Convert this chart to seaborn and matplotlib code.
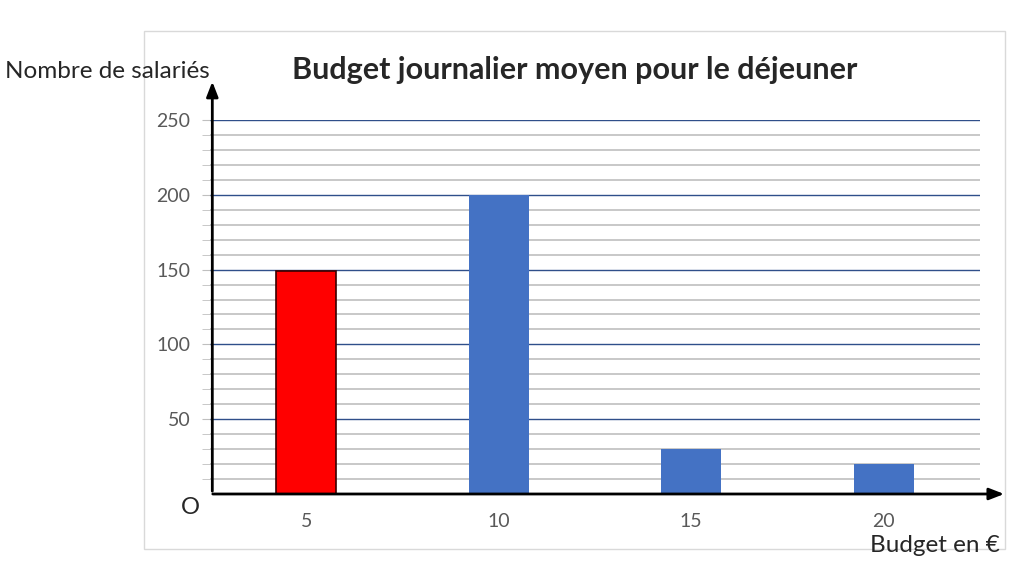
import numpy as np
import pandas as pd
import matplotlib
matplotlib.use("Agg")
import matplotlib.pyplot as plt
import seaborn as sns
from matplotlib.patches import Rectangle

# data
budgets = ["5", "10", "15", "20"]
salaries = [149, 200, 30, 20]
bar_colors = ["#FF0000", "#4472C4", "#4472C4", "#4472C4"]
y_major = [50, 100, 150, 200, 250]
y_minor = list(range(10, 250, 10))

sns.set_style("white")
plt.rcParams["font.family"] = ["Lato", "DejaVu Sans"]

df = pd.DataFrame({"budget": budgets, "salaries": salaries})

fig = plt.figure(figsize=(10.24, 5.85), dpi=100)

# light frame around the chart area
fig.patches.append(Rectangle((144 / 1024, 1 - 549 / 585), (1005 - 144) / 1024, (549 - 31) / 585,
                             transform=fig.transFigure, fill=False, edgecolor="#D9D9D9", lw=1))

ax = fig.add_axes([210 / 1024, 1 - 494 / 585, 770 / 1024, 374 / 585])

# grid lines
for v in y_minor:
    if v not in y_major:
        ax.axhline(v, color="#BFBFBF", lw=1.2, zorder=0)
for v in y_major:
    ax.axhline(v, color="#2F4F8A", lw=1.0, zorder=0)

sns.barplot(data=df, x="budget", y="salaries", hue="budget", palette=bar_colors,
            width=0.31, legend=False, ax=ax, zorder=2, saturation=1, linewidth=0)
ax.patches[0].set_edgecolor("#3A0000")
ax.patches[0].set_linewidth(1.2)

ax.set_ylim(0, 250)
ax.set_xlim(-0.5, 3.5)
ax.set_yticks(y_major)
ax.set_yticklabels([str(v) for v in y_major], color="#595959", fontsize=14)
ax.set_yticks(y_minor, minor=True)
ax.tick_params(axis="y", which="both", length=6, color="#BFBFBF", left=True, pad=8)
ax.tick_params(axis="x", length=0, labelsize=14, labelcolor="#595959", pad=14)
ax.set_xlabel("")
ax.set_ylabel("")
for s in ax.spines.values():
    s.set_visible(False)

# axis arrows
ax.annotate("", xy=(0.003, 1.11), xytext=(0.003, 0), xycoords="axes fraction",
            arrowprops=dict(arrowstyle="-|>,head_width=0.35,head_length=0.9", color="black", lw=2),
            annotation_clip=False)
ax.annotate("", xy=(1.035, 0), xytext=(0, 0), xycoords="axes fraction",
            arrowprops=dict(arrowstyle="-|>,head_width=0.35,head_length=0.9", color="black", lw=2),
            annotation_clip=False)

fig.text(575 / 1024, 1 - 70 / 585, "Budget journalier moyen pour le déjeuner",
         ha="center", va="center", fontsize=22, fontweight="bold")
fig.text(5 / 1024, 1 - 72 / 585, "Nombre de salariés", ha="left", va="center", fontsize=17.5)
fig.text(1000 / 1024, 1 - 545 / 585, "Budget en €", ha="right", va="center", fontsize=17.5)
fig.text(190 / 1024, 1 - 507 / 585, "O", ha="center", va="center", fontsize=17)

fig.savefig("out.png", dpi=100)
